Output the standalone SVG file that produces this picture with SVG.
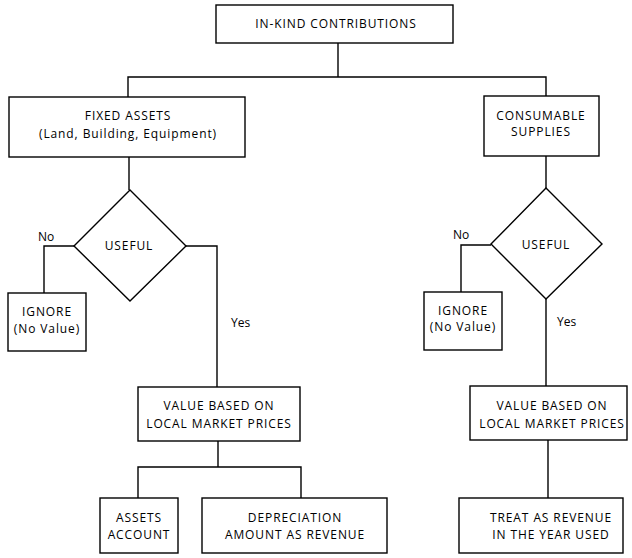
<svg xmlns="http://www.w3.org/2000/svg" width="632" height="558" viewBox="0 0 632 558">
<style>
.box{fill:#fff;stroke:#000;stroke-width:1.4}
.ln{fill:none;stroke:#000;stroke-width:1.4}
text{font-family:"Open Sans","DejaVu Sans",sans-serif;font-size:12px;fill:#000;text-anchor:middle}
.c{letter-spacing:0.9px}
.lbl{text-anchor:start}
</style>
<rect width="632" height="558" fill="#fff"/>
<g id="connectors">
<path class="ln" d="M338 43V77"/>
<path class="ln" d="M128 97V77H546V96"/>
<path class="ln" d="M129 157V190"/>
<path class="ln" d="M74 246H44V293"/>
<path class="ln" d="M186 246H217V387"/>
<path class="ln" d="M218 441V467M138 498V467H301V498"/>
<path class="ln" d="M546 156V188"/>
<path class="ln" d="M491 245H461V292"/>
<path class="ln" d="M546 299V386"/>
<path class="ln" d="M548 440V498"/>
</g>
<g id="in-kind"><rect class="box" x="216" y="5" width="237" height="38"/><text class="c" x="336" y="28">IN-KIND CONTRIBUTIONS</text></g>
<g id="fixed-assets"><rect class="box" x="9" y="97" width="236" height="60"/><text class="c" x="128" y="120">FIXED ASSETS</text><text class="c" x="128" y="138">(Land, Building, Equipment)</text></g>
<g id="useful-left"><polygon class="box" points="130,190 186,246 130,301 74,246"/><text class="c" x="129" y="250">USEFUL</text><text class="lbl" x="38" y="241">No</text><text class="lbl" x="231" y="327">Yes</text></g>
<g id="ignore-left"><rect class="box" x="8" y="293" width="78" height="58"/><text class="c" x="47" y="316">IGNORE</text><text class="c" x="47" y="333">(No Value)</text></g>
<g id="value-left"><rect class="box" x="138" y="387" width="162" height="54"/><text class="c" x="219" y="410">VALUE BASED ON</text><text class="c" x="219" y="428">LOCAL MARKET PRICES</text></g>
<g id="assets-account"><rect class="box" x="100" y="498" width="78" height="55"/><text class="c" x="139" y="522">ASSETS</text><text class="c" x="139" y="539">ACCOUNT</text></g>
<g id="depreciation"><rect class="box" x="202" y="498" width="185" height="55"/><text class="c" x="295" y="522">DEPRECIATION</text><text class="c" x="295" y="539">AMOUNT AS REVENUE</text></g>
<g id="consumable"><rect class="box" x="484" y="96" width="115" height="60"/><text class="c" x="541" y="120">CONSUMABLE</text><text class="c" x="541" y="136">SUPPLIES</text></g>
<g id="useful-right"><polygon class="box" points="546,188 602,244 546,299 491,244"/><text class="c" x="546" y="249">USEFUL</text><text class="lbl" x="453" y="239">No</text><text class="lbl" x="557" y="326">Yes</text></g>
<g id="ignore-right"><rect class="box" x="424" y="292" width="78" height="58"/><text class="c" x="463" y="315">IGNORE</text><text class="c" x="463" y="331">(No Value)</text></g>
<g id="value-right"><rect class="box" x="470" y="386" width="157" height="54"/><text class="c" x="552" y="410">VALUE BASED ON</text><text class="c" x="552" y="428">LOCAL MARKET PRICES</text></g>
<g id="treat-revenue"><rect class="box" x="459" y="498" width="164" height="55"/><text class="c" x="551" y="522">TREAT AS REVENUE</text><text class="c" x="551" y="539">IN THE YEAR USED</text></g>
</svg>
